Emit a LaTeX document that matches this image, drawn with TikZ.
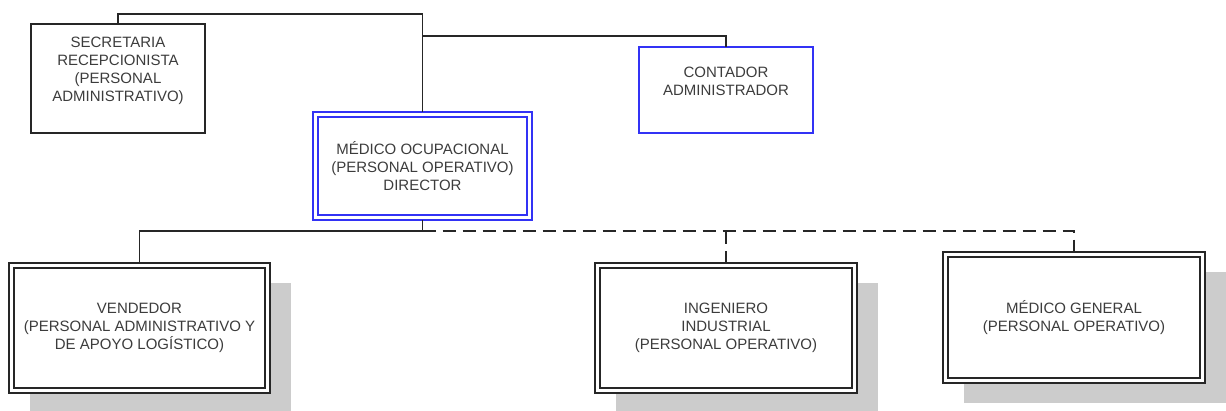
\documentclass[tikz,border=0pt]{standalone}
\usepackage{fontspec}
\setmainfont{Liberation Sans}
\usetikzlibrary{shadows}
\definecolor{bl}{RGB}{50,50,245}
\definecolor{txt}{RGB}{60,60,60}
\definecolor{shd}{RGB}{204,204,204}
\begin{document}
\begin{tikzpicture}[x=1pt,y=-1pt,
 every node/.style={font=\fontsize{15}{18}\selectfont, text=txt, align=center, inner sep=0pt, outer sep=0pt},
 plainbox/.style={draw=black!85, line width=1.6pt, anchor=north west},
 bluebox/.style={draw=bl, line width=1.6pt, anchor=north west},
 dirbox/.style={draw=bl, line width=2.6pt, anchor=north west},
 dblbox/.style={draw=black!85, fill=white, line width=2.2pt, anchor=north west, general shadow={fill=shd, shadow xshift=21pt, shadow yshift=-20pt}},
 innerblue/.style={draw=bl, line width=1.3pt},
 innerblack/.style={draw=black!85, line width=1.3pt},
 conn/.style={draw=black!85, line width=1.5pt},
 dconn/.style={conn, dash pattern=on 13pt off 7pt},
]
\useasboundingbox (0,0) rectangle (1226,410);

\node[plainbox, minimum width=174pt, minimum height=109pt] (sec) at (31,24)
  {SECRETARIA\\RECEPCIONISTA\\(PERSONAL\\ADMINISTRATIVO)\\\mbox{}};
\node[dirbox, minimum width=219pt, minimum height=108pt] (dir) at (313,112)
  {MÉDICO OCUPACIONAL\\(PERSONAL OPERATIVO)\\DIRECTOR};
\draw[innerblue] ([xshift=5pt,yshift=5pt]dir.south west) rectangle ([xshift=-5pt,yshift=-5pt]dir.north east);
\node[bluebox, minimum width=174pt, minimum height=86pt] (con) at (639,47)
  {CONTADOR\\ADMINISTRADOR\\\mbox{}};

\node[dblbox, minimum width=261pt, minimum height=130pt] (ven) at (9,263)
  {VENDEDOR\\(PERSONAL ADMINISTRATIVO Y\\DE APOYO LOGÍSTICO)};
\draw[innerblack] ([xshift=5pt,yshift=5pt]ven.south west) rectangle ([xshift=-5pt,yshift=-5pt]ven.north east);
\node[dblbox, minimum width=262pt, minimum height=130pt] (ing) at (595,263)
  {INGENIERO\\INDUSTRIAL\\(PERSONAL OPERATIVO)};
\draw[innerblack] ([xshift=5pt,yshift=5pt]ing.south west) rectangle ([xshift=-5pt,yshift=-5pt]ing.north east);
\node[dblbox, minimum width=262pt, minimum height=131pt] (med) at (943,252)
  {MÉDICO GENERAL\\(PERSONAL OPERATIVO)};
\draw[innerblack] ([xshift=5pt,yshift=5pt]med.south west) rectangle ([xshift=-5pt,yshift=-5pt]med.north east);

\coordinate (t1) at (0,14);
\coordinate (t2) at (0,36);
\coordinate (b1) at (0,231);
\draw[conn] (sec.north) |- (t1 -| dir.north) -- (dir.north);
\draw[conn] (t2 -| dir.north) -| (con.north);
\draw[conn] (dir.south) -- (b1 -| dir.south) -| (ven.north);
\draw[dconn] (b1 -| dir.south) -| (med.north);
\draw[dconn] (b1 -| ing.north) -- (ing.north);
\end{tikzpicture}
\end{document}
